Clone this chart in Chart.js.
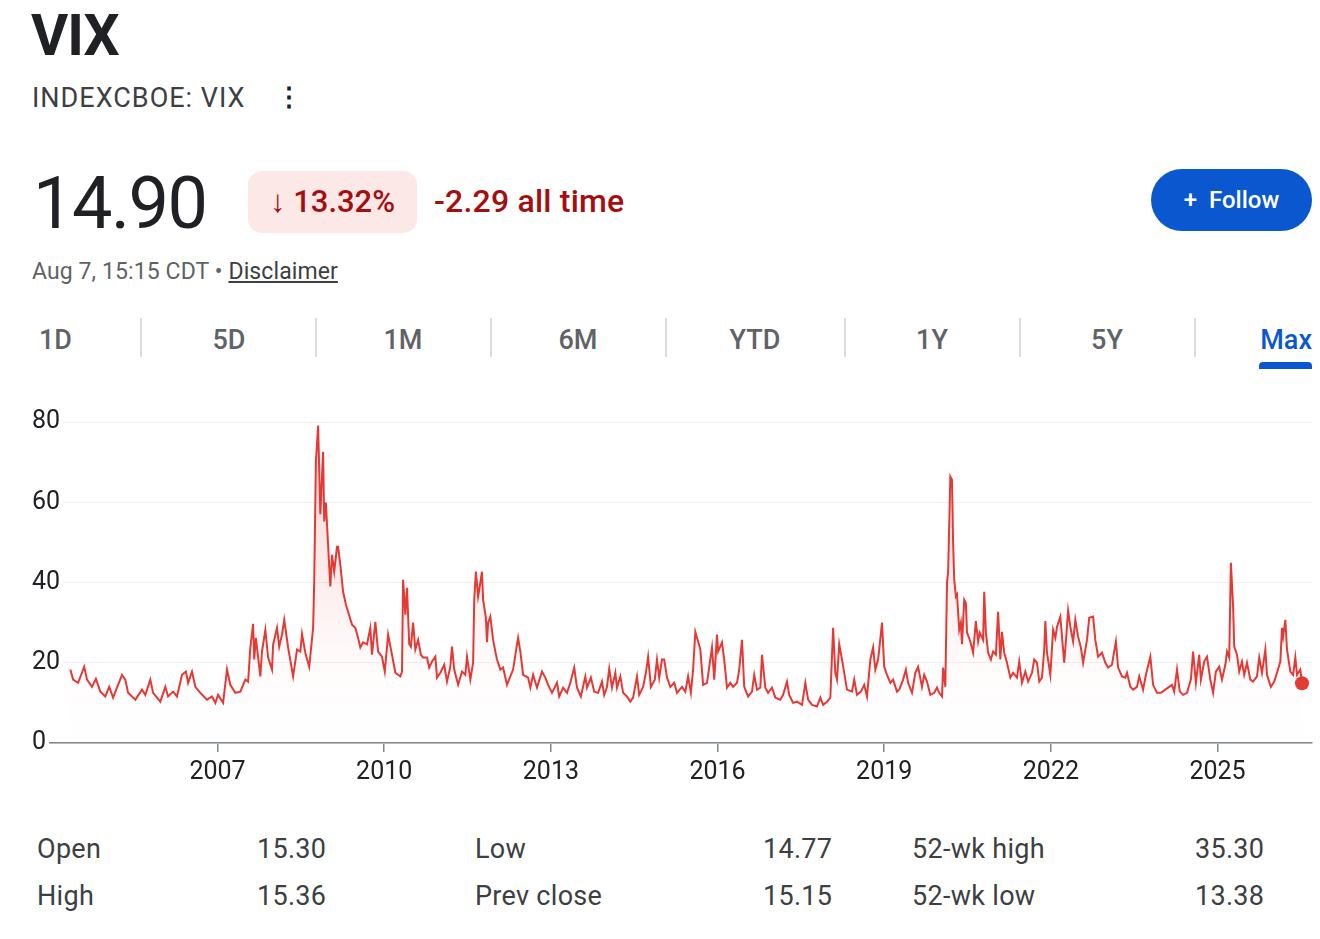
<!DOCTYPE html>
<html>
<head>
<meta charset="utf-8">
<script src="https://cdn.jsdelivr.net/npm/chart.js@4.4.1/dist/chart.umd.min.js"></script>
<style>
  body { margin: 0; background: #fff; font-family: Roboto, "Noto Sans", Arial, sans-serif; }
  #page { position: relative; width: 1320px; height: 939px; overflow: hidden; }
  .abs { position: absolute; white-space: nowrap; }
  #title { left: 31px; top: 2px; font-size: 57px; font-weight: 700; color: #202124; letter-spacing: -1px; }
  #symbol { left: 32px; top: 82px; font-size: 27px; color: #3c4043; letter-spacing: 1px; }
  #dots { left: 276px; top: 82px; font-size: 26px; font-weight: 700; color: #202124; }
  #price { left: 33px; top: 161px; font-size: 72px; color: #202124; letter-spacing: -1.5px; }
  #badge { left: 248px; top: 171px; width: 169px; height: 62px; border-radius: 14px; background: #fce8e6;
           color: #a50e0e; font-size: 31px; font-weight: 500; line-height: 62px; text-align: center; }
  #change { left: 434px; top: 182px; font-size: 32px; font-weight: 500; color: #a50e0e; letter-spacing: 0.2px; }
  #follow { left: 1151px; top: 169px; width: 161px; height: 62px; border-radius: 31px; background: #0b57d0;
            color: #fff; font-size: 24px; font-weight: 500; line-height: 62px; text-align: center; }
  #stamp { left: 32px; top: 258px; font-size: 23px; color: #5f6368; letter-spacing: 0.1px; }
  #stamp u { color: #3c4043; }
  .tab { top: 324px; font-size: 27px; font-weight: 500; color: #5f6368; }
  .sep { top: 318px; width: 2px; height: 39px; background: #dadce0; }
  #maxline { left: 1259px; top: 362px; width: 53px; height: 7px; background: #0b57d0; border-radius: 4px 4px 0 0; }
  .stat { font-size: 27px; color: #3c4043; letter-spacing: 0.3px; }
  #chartBox { position: absolute; left: 0; top: 401px; width: 1320px; height: 400px; }
</style>
</head>
<body>
<div id="page">
  <div class="abs" id="title">VIX</div>
  <div class="abs" id="symbol">INDEXCBOE: VIX</div>
  <div class="abs" id="dots">&#8942;</div>
  <div class="abs" id="price">14.90</div>
  <div class="abs" id="badge">&#8595; 13.32%</div>
  <div class="abs" id="change">-2.29 all time</div>
  <div class="abs" id="follow">+&nbsp; Follow</div>
  <div class="abs" id="stamp">Aug 7, 15:15 CDT &bull; <u>Disclaimer</u></div>

  <div class="abs tab" style="left:39px">1D</div>
  <div class="abs sep" style="left:140px"></div>
  <div class="abs tab" style="left:229px; transform:translateX(-50%)">5D</div>
  <div class="abs sep" style="left:315px"></div>
  <div class="abs tab" style="left:403px; transform:translateX(-50%)">1M</div>
  <div class="abs sep" style="left:490px"></div>
  <div class="abs tab" style="left:578px; transform:translateX(-50%)">6M</div>
  <div class="abs sep" style="left:665px"></div>
  <div class="abs tab" style="left:755px; transform:translateX(-50%)">YTD</div>
  <div class="abs sep" style="left:844px"></div>
  <div class="abs tab" style="left:932px; transform:translateX(-50%)">1Y</div>
  <div class="abs sep" style="left:1019px"></div>
  <div class="abs tab" style="left:1107px; transform:translateX(-50%)">5Y</div>
  <div class="abs sep" style="left:1194px"></div>
  <div class="abs tab" style="right:8px; color:#0b57d0">Max</div>
  <div class="abs" id="maxline"></div>

  <div id="chartBox"><canvas id="vixChart" width="1320" height="400"></canvas></div>

  <div class="abs stat" style="left:37px; top:833px">Open</div>
  <div class="abs stat" style="left:257px; top:833px">15.30</div>
  <div class="abs stat" style="left:475px; top:833px">Low</div>
  <div class="abs stat" style="left:763px; top:833px">14.77</div>
  <div class="abs stat" style="left:912px; top:833px">52-wk high</div>
  <div class="abs stat" style="left:1195px; top:833px">35.30</div>
  <div class="abs stat" style="left:37px; top:880px">High</div>
  <div class="abs stat" style="left:257px; top:880px">15.36</div>
  <div class="abs stat" style="left:475px; top:880px">Prev close</div>
  <div class="abs stat" style="left:763px; top:880px">15.15</div>
  <div class="abs stat" style="left:912px; top:880px">52-wk low</div>
  <div class="abs stat" style="left:1195px; top:880px">13.38</div>
</div>

<script>
// decimal year of each sampled close
const dates = [
  2004.35, 2004.40, 2004.49, 2004.60, 2004.65, 2004.74, 2004.81, 2004.89, 2004.98, 2005.05,
  2005.12, 2005.19, 2005.28, 2005.34, 2005.39, 2005.52, 2005.64, 2005.70, 2005.79, 2005.84,
  2005.97, 2006.06, 2006.11, 2006.20, 2006.27, 2006.36, 2006.43, 2006.47, 2006.54, 2006.60,
  2006.69, 2006.81, 2006.90, 2006.96, 2007.01, 2007.10, 2007.17, 2007.23, 2007.32, 2007.41,
  2007.50, 2007.55, 2007.59, 2007.64, 2007.66, 2007.69, 2007.77, 2007.80, 2007.86, 2007.91,
  2007.98, 2008.00, 2008.07, 2008.11, 2008.16, 2008.20, 2008.27, 2008.36, 2008.43, 2008.49,
  2008.52, 2008.58, 2008.65, 2008.72, 2008.74, 2008.77, 2008.81, 2008.85, 2008.90, 2008.92,
  2008.95, 2009.01, 2009.03, 2009.06, 2009.10, 2009.15, 2009.17, 2009.21, 2009.26, 2009.31,
  2009.35, 2009.42, 2009.48, 2009.53, 2009.57, 2009.62, 2009.69, 2009.75, 2009.78, 2009.84,
  2009.89, 2009.96, 2010.01, 2010.07, 2010.14, 2010.20, 2010.29, 2010.32, 2010.34, 2010.38,
  2010.41, 2010.45, 2010.48, 2010.52, 2010.56, 2010.61, 2010.66, 2010.70, 2010.77, 2010.81,
  2010.86, 2010.92, 2010.95, 2011.01, 2011.08, 2011.13, 2011.19, 2011.22, 2011.26, 2011.33,
  2011.40, 2011.46, 2011.49, 2011.55, 2011.60, 2011.62, 2011.65, 2011.69, 2011.71, 2011.76,
  2011.78, 2011.83, 2011.85, 2011.87, 2011.91, 2011.96, 2012.00, 2012.03, 2012.09, 2012.14,
  2012.21, 2012.27, 2012.32, 2012.39, 2012.41, 2012.45, 2012.50, 2012.59, 2012.63, 2012.68,
  2012.75, 2012.84, 2012.90, 2012.95, 2013.02, 2013.11, 2013.15, 2013.22, 2013.29, 2013.35,
  2013.42, 2013.47, 2013.54, 2013.62, 2013.65, 2013.72, 2013.78, 2013.85, 2013.92, 2013.96,
  2014.01, 2014.05, 2014.10, 2014.16, 2014.19, 2014.25, 2014.30, 2014.37, 2014.43, 2014.48,
  2014.55, 2014.59, 2014.66, 2014.71, 2014.75, 2014.80, 2014.87, 2014.91, 2014.95, 2015.00,
  2015.04, 2015.09, 2015.15, 2015.22, 2015.27, 2015.36, 2015.42, 2015.47, 2015.52, 2015.56,
  2015.60, 2015.65, 2015.69, 2015.74, 2015.81, 2015.85, 2015.90, 2015.94, 2015.99, 2016.01,
  2016.08, 2016.12, 2016.17, 2016.23, 2016.28, 2016.35, 2016.39, 2016.44, 2016.48, 2016.55,
  2016.62, 2016.66, 2016.71, 2016.77, 2016.80, 2016.86, 2016.91, 2016.98, 2017.04, 2017.13,
  2017.18, 2017.25, 2017.29, 2017.36, 2017.43, 2017.52, 2017.58, 2017.63, 2017.70, 2017.79,
  2017.85, 2017.90, 2017.97, 2018.03, 2018.08, 2018.12, 2018.15, 2018.19, 2018.24, 2018.30,
  2018.33, 2018.42, 2018.46, 2018.51, 2018.58, 2018.64, 2018.69, 2018.75, 2018.80, 2018.84,
  2018.89, 2018.91, 2018.96, 2019.00, 2019.05, 2019.11, 2019.16, 2019.23, 2019.27, 2019.34,
  2019.39, 2019.43, 2019.50, 2019.56, 2019.61, 2019.68, 2019.72, 2019.77, 2019.83, 2019.90,
  2019.95, 2019.99, 2020.04, 2020.06, 2020.10, 2020.13, 2020.15, 2020.19, 2020.22, 2020.24,
  2020.26, 2020.29, 2020.31, 2020.35, 2020.38, 2020.40, 2020.44, 2020.47, 2020.49, 2020.55,
  2020.60, 2020.65, 2020.69, 2020.72, 2020.78, 2020.80, 2020.83, 2020.87, 2020.92, 2020.96,
  2021.01, 2021.05, 2021.09, 2021.12, 2021.16, 2021.21, 2021.27, 2021.32, 2021.39, 2021.43,
  2021.48, 2021.54, 2021.59, 2021.66, 2021.70, 2021.75, 2021.79, 2021.84, 2021.88, 2021.90,
  2021.93, 2021.99, 2022.04, 2022.08, 2022.11, 2022.17, 2022.20, 2022.24, 2022.27, 2022.31,
  2022.35, 2022.40, 2022.44, 2022.49, 2022.54, 2022.58, 2022.65, 2022.69, 2022.76, 2022.80,
  2022.85, 2022.92, 2022.98, 2023.03, 2023.10, 2023.12, 2023.17, 2023.21, 2023.28, 2023.34,
  2023.37, 2023.43, 2023.48, 2023.55, 2023.59, 2023.66, 2023.71, 2023.79, 2023.84, 2023.91,
  2023.98, 2024.06, 2024.11, 2024.18, 2024.22, 2024.27, 2024.32, 2024.38, 2024.45, 2024.52,
  2024.56, 2024.61, 2024.67, 2024.70, 2024.76, 2024.81, 2024.87, 2024.92, 2024.97, 2025.03,
  2025.08, 2025.14, 2025.17, 2025.21, 2025.24, 2025.28, 2025.30, 2025.35, 2025.39, 2025.44,
  2025.48, 2025.53, 2025.59, 2025.64, 2025.71, 2025.75, 2025.80, 2025.86, 2025.89, 2025.96,
  2026.02, 2026.07, 2026.13, 2026.16, 2026.18, 2026.22, 2026.25, 2026.31, 2026.36, 2026.40,
  2026.43, 2026.49, 2026.52
];

const closes = [
  18.3, 15.8, 15.0, 19.0, 15.8, 14.0, 16.0, 12.8, 11.6, 14.0,
  11.3, 13.8, 17.0, 15.8, 12.5, 10.8, 13.3, 12.0, 15.8, 12.5,
  10.3, 14.0, 11.6, 12.8, 11.6, 17.0, 17.8, 15.0, 17.8, 14.0,
  12.5, 10.8, 11.6, 10.0, 12.0, 10.0, 18.3, 14.5, 12.5, 12.8,
  15.8, 15.3, 23.8, 29.7, 20.8, 26.2, 16.6, 22.8, 28.2, 21.3,
  18.3, 24.5, 28.7, 24.0, 27.0, 30.7, 23.8, 16.6, 23.3, 22.8,
  27.2, 22.5, 19.0, 28.7, 40.2, 70.1, 79.1, 57.0, 72.6, 55.2,
  59.9, 44.0, 39.0, 46.9, 42.7, 48.9, 48.9, 44.4, 37.7, 34.5,
  32.7, 29.5, 28.7, 26.2, 23.8, 25.1, 24.6, 28.7, 22.0, 30.2,
  22.8, 21.5, 17.8, 27.0, 22.0, 17.5, 16.6, 17.8, 40.7, 32.0,
  38.7, 24.6, 24.0, 30.0, 23.3, 25.7, 22.0, 21.3, 21.3, 18.8,
  20.3, 21.5, 16.3, 17.5, 19.5, 15.3, 19.0, 24.0, 18.3, 14.5,
  17.8, 17.0, 21.5, 15.8, 20.0, 35.7, 42.7, 36.5, 38.2, 42.7,
  35.7, 31.2, 25.1, 30.0, 31.5, 25.7, 22.8, 20.8, 18.3, 18.8,
  14.5, 16.6, 18.3, 24.6, 26.2, 22.8, 17.0, 16.3, 13.8, 17.0,
  13.8, 17.8, 16.3, 14.5, 12.5, 15.0, 11.6, 13.8, 12.5, 15.0,
  18.8, 13.8, 11.6, 16.6, 13.8, 16.3, 12.8, 12.5, 15.3, 12.0,
  14.0, 18.5, 13.8, 17.5, 13.8, 16.6, 12.5, 11.6, 10.3, 11.3,
  16.6, 12.0, 14.0, 17.5, 21.5, 14.0, 15.8, 20.8, 16.3, 20.8,
  20.8, 16.3, 14.0, 15.0, 12.5, 14.0, 12.8, 16.6, 12.5, 18.3,
  27.7, 25.3, 23.3, 14.5, 15.0, 19.0, 23.8, 15.8, 27.0, 22.8,
  25.1, 20.8, 13.8, 15.0, 14.0, 15.0, 18.3, 25.7, 14.0, 11.6,
  12.8, 17.0, 13.3, 13.8, 22.0, 13.8, 12.5, 13.8, 11.3, 10.8,
  12.0, 15.3, 12.0, 10.0, 10.3, 9.5, 15.0, 10.8, 9.5, 9.1,
  11.3, 9.5, 10.3, 11.3, 28.7, 17.5, 15.8, 24.6, 20.8, 15.8,
  13.3, 12.8, 15.8, 12.0, 12.8, 14.5, 11.6, 20.8, 23.8, 18.3,
  20.8, 23.3, 30.0, 19.0, 17.0, 15.0, 15.8, 12.8, 13.3, 15.8,
  18.3, 15.0, 12.5, 17.5, 19.0, 14.0, 17.0, 15.3, 12.0, 12.5,
  13.8, 12.5, 11.6, 18.8, 14.0, 40.0, 42.5, 66.4, 65.6, 49.9,
  40.7, 36.5, 37.0, 28.2, 30.0, 24.6, 35.7, 34.9, 27.5, 25.3,
  22.5, 30.4, 25.3, 27.5, 25.7, 37.7, 27.5, 22.5, 20.8, 22.8,
  22.0, 32.7, 20.8, 27.7, 22.5, 20.0, 16.3, 17.5, 16.3, 20.3,
  15.0, 17.8, 15.3, 17.5, 20.8, 20.0, 15.3, 16.3, 23.3, 30.4,
  22.5, 17.0, 28.2, 26.2, 29.0, 31.5, 26.5, 20.0, 25.3, 33.0,
  29.0, 25.3, 30.7, 26.5, 23.8, 20.0, 25.7, 31.2, 31.5, 25.7,
  21.5, 22.5, 20.0, 18.8, 19.5, 21.3, 25.3, 18.8, 16.6, 16.3,
  17.5, 14.0, 13.3, 14.0, 16.6, 13.3, 17.0, 21.5, 14.5, 12.5,
  12.5, 13.3, 13.8, 14.5, 12.8, 18.3, 12.8, 12.0, 12.5, 15.8,
  22.8, 15.0, 22.0, 15.8, 20.3, 21.5, 15.8, 12.5, 17.8, 19.0,
  15.8, 19.5, 22.8, 21.3, 44.9, 34.0, 24.0, 22.0, 17.8, 20.3,
  17.0, 20.0, 15.8, 15.3, 16.6, 21.3, 17.5, 23.3, 17.0, 14.0,
  15.3, 17.5, 20.3, 28.7, 26.5, 30.7, 23.3, 17.8, 17.0, 21.3,
  17.0, 18.3, 14.90
];

const yearTicks = [2007, 2010, 2013, 2016, 2019, 2022, 2025];
const valueTicks = [0, 20, 40, 60, 80];

const lineRed = '#e53935';
const points = dates.map((d, i) => ({ x: d, y: closes[i] }));
const lastIndex = points.length - 1;

const ctx = document.getElementById('vixChart').getContext('2d');
new Chart(ctx, {
  type: 'line',
  data: {
    datasets: [{
      data: points,
      borderColor: lineRed,
      borderWidth: 2,
      tension: 0,
      fill: 'start',
      backgroundColor: function (c) {
        const area = c.chart.chartArea;
        if (!area) return 'rgba(229,57,53,0)';
        const g = c.chart.ctx.createLinearGradient(0, area.top, 0, area.bottom);
        g.addColorStop(0, 'rgba(229,57,53,0.22)');
        g.addColorStop(0.75, 'rgba(229,57,53,0.02)');
        g.addColorStop(1, 'rgba(229,57,53,0)');
        return g;
      },
      pointRadius: c => (c.dataIndex === lastIndex ? 7 : 0),
      pointBackgroundColor: lineRed,
      pointBorderWidth: 0
    }]
  },
  options: {
    responsive: false,
    animation: false,
    events: [],
    layout: { padding: { left: 32, right: 8, top: 21, bottom: 0 } },
    plugins: { legend: { display: false }, tooltip: { enabled: false } },
    scales: {
      x: {
        type: 'linear',
        min: 2003.66,
        max: 2026.70,
        afterBuildTicks: s => { s.ticks = yearTicks.map(v => ({ value: v })); },
        afterFit: s => { s.height = 58; },
        grid: { drawOnChartArea: false, drawTicks: true, tickLength: 9, color: '#80868b', lineWidth: 1.5 },
        border: { display: true, color: '#80868b', width: 1.5 },
        ticks: {
          autoSkip: false,
          maxRotation: 0,
          padding: 6,
          color: '#202124',
          font: { family: 'Roboto', size: 25 },
          callback: v => String(v)
        }
      },
      y: {
        min: 0,
        max: 80,
        afterBuildTicks: s => { s.ticks = valueTicks.map(v => ({ value: v })); },
        grid: { color: '#eeeeee', lineWidth: 1, drawTicks: false },
        border: { display: false },
        ticks: {
          mirror: true,
          padding: 0,
          z: 1,
          showLabelBackdrop: true,
          backdropColor: '#ffffff',
          backdropPadding: 3,
          color: '#202124',
          font: { family: 'Roboto', size: 25 }
        }
      }
    }
  }
});
</script>
</body>
</html>
